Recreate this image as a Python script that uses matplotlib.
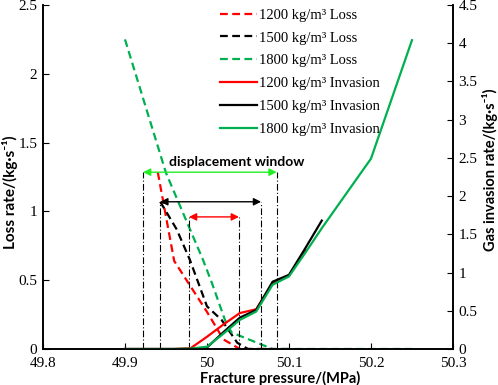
import numpy as np
import matplotlib
matplotlib.use("Agg")
import matplotlib.pyplot as plt
from matplotlib.ticker import FuncFormatter

# loss rate curves (left axis)
x_loss_1200 = [49.94, 49.96, 50.0, 50.02, 50.04, 50.08]
y_loss_1200 = [1.285, 0.64, 0.27, 0.07, 0.0, 0.0]
x_loss_1500 = [49.943, 49.963, 49.979, 50.0, 50.018, 50.037, 50.05, 50.1]
y_loss_1500 = [1.07, 0.87, 0.65, 0.31, 0.21, 0.045, 0.0, 0.0]
x_loss_1800 = [49.9, 49.95, 49.995, 50.006, 50.022, 50.03, 50.08, 50.25]
y_loss_1800 = [2.25, 1.28, 0.65, 0.48, 0.21, 0.12, 0.0, 0.0]

# gas invasion curves (right axis)
x_inv = [49.9, 49.92, 49.94, 49.96, 49.98, 50.0, 50.02, 50.04, 50.06, 50.08, 50.1, 50.12, 50.14, 50.2, 50.25]
y_inv_1200 = [0, 0, 0, 0, 0.01, 0.16, 0.32, 0.47, 0.52, 0.86, 0.96, 1.3]
y_inv_1500 = [0, 0, 0, 0, 0, 0.02, 0.22, 0.41, 0.51, 0.88, 0.97, 1.32, 1.68]
y_inv_1800 = [0, 0, 0, 0, 0.005, 0.03, 0.2, 0.38, 0.49, 0.84, 0.95, 1.26, 1.58, 2.49, 4.04]

# displacement windows: (left, right, level)
win_1800 = (49.922, 50.085, 1.285)
win_1500 = (49.943, 50.066, 1.07)
win_1200 = (49.978, 50.039, 0.96)

serif = "Liberation Serif"
sans = ["Lato", "DejaVu Sans"]
plt.rcParams['font.family'] = serif

red = "#ff0000"
grn = "#00b050"
lime = "#22ee22"

fig = plt.figure(figsize=(4.98, 3.85), dpi=100)
ax = fig.add_axes([0.0863, 0.0935, 0.8233, 0.8935])
ax2 = ax.twinx()

lw = 1.6
dash = (0, (3.5, 2))
ax.plot(x_loss_1200, y_loss_1200, color=red, lw=lw, ls=dash, label="1200 kg/m³ Loss")
ax.plot(x_loss_1500, y_loss_1500, color="k", lw=lw, ls=dash, label="1500 kg/m³ Loss")
ax.plot(x_loss_1800, y_loss_1800, color=grn, lw=lw, ls=dash, label="1800 kg/m³ Loss")

l1, = ax2.plot(x_inv[:len(y_inv_1200)], y_inv_1200, color=red, lw=lw, label="1200 kg/m³ Invasion")
l2, = ax2.plot(x_inv[:len(y_inv_1500)], y_inv_1500, color="k", lw=lw, label="1500 kg/m³ Invasion")
l3, = ax2.plot(x_inv, y_inv_1800, color=grn, lw=lw, label="1800 kg/m³ Invasion")

# window lines and arrows
for (a, b, lev), c in [(win_1800, lime), (win_1500, "k"), (win_1200, red)]:
    for xv in (a, b):
        ax.plot([xv, xv], [0, lev], color="k", lw=0.8, ls=(0, (6, 2, 1, 2)))
    ax.annotate("", xy=(a, lev), xytext=(b, lev),
                arrowprops=dict(arrowstyle="<|-|>", color=c, lw=1.0,
                                mutation_scale=11, shrinkA=0, shrinkB=0))

ax.text(50.036, 1.33, "displacement window", family=sans, fontweight="bold",
        fontsize=10, ha="center", va="baseline")

ax.set_xlim(49.8, 50.3)
ax.set_ylim(0, 2.5)
ax2.set_ylim(0, 4.5)
ax.set_xticks(np.arange(49.8, 50.31, 0.1))
ax.set_yticks(np.arange(0, 2.51, 0.5))
ax2.set_yticks(np.arange(0, 4.51, 0.5))
fmt = FuncFormatter(lambda v, p: "%g" % round(v, 2))
ax.xaxis.set_major_formatter(fmt)
ax.yaxis.set_major_formatter(fmt)
ax2.yaxis.set_major_formatter(fmt)
for a_ in (ax, ax2):
    a_.tick_params(direction="in", length=4, width=0.8, labelsize=11, pad=4)
    a_.spines['top'].set_visible(False)
    for s in a_.spines.values():
        s.set_linewidth(1.2)
ax.tick_params(axis='x', pad=6)

ax.set_xlabel("Fracture pressure/(MPa)", family=sans, fontweight="bold", fontsize=10.5)
ax.xaxis.set_label_coords(0.578, -0.063)
ax.set_ylabel("Loss rate/(kg·s⁻¹)", family=sans, fontweight="bold", fontsize=11)
ax.yaxis.set_label_coords(-0.062, 0.455)
ax2.set_ylabel("Gas invasion rate/(kg·s⁻¹)", family=sans, fontweight="bold", fontsize=10.5)
ax2.yaxis.set_label_coords(1.071, 0.52)

h1, lab1 = ax.get_legend_handles_labels()
leg = ax2.legend(h1 + [l1, l2, l3], lab1 + [l1.get_label(), l2.get_label(), l3.get_label()],
                 loc="upper left", bbox_to_anchor=(0.40, 1.028), frameon=False,
                 fontsize=10.5, handlelength=2.5, handletextpad=0.2, labelspacing=0.66)

fig.savefig("out.png", dpi=100)
